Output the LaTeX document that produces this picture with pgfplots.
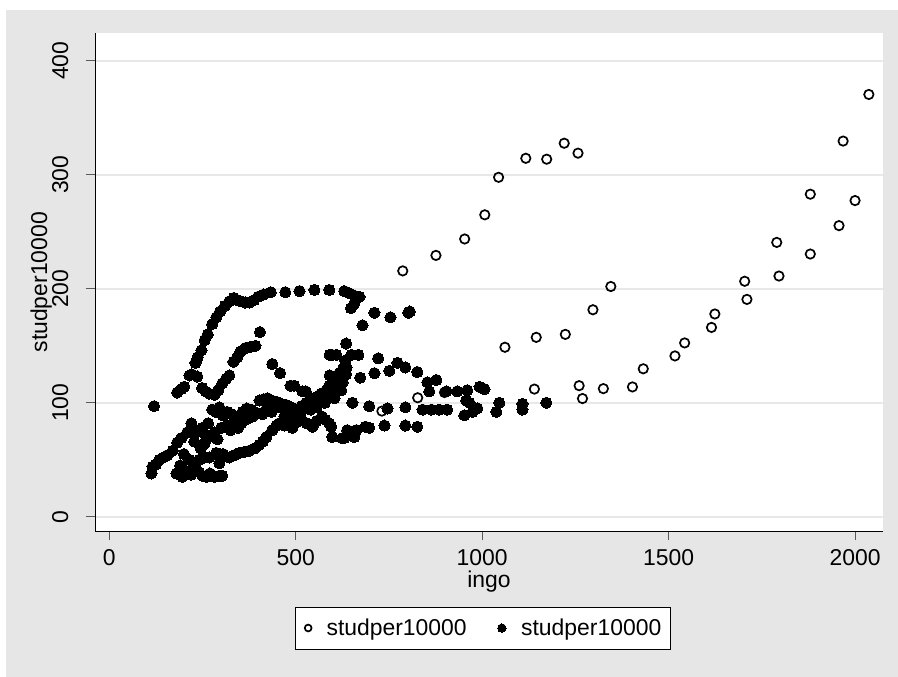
\documentclass[border=0pt]{standalone}
\usepackage{fontspec}
\setmainfont{Liberation Sans}
\usepackage{pgfplots}
\usepackage{pgfplotstable}
\pgfplotsset{compat=1.18}

\definecolor{bggray}{RGB}{230,230,230}
\definecolor{gridgray}{RGB}{232,232,232}
\definecolor{tickgray}{RGB}{90,90,90}

% later years (hollow markers)
\pgfplotstableread{
x y
2037 370.5
1968 329.6
1880 283.0
2000 277.4
1957 255.4
1790 240.7
1880 230.5
1796 211.2
1704 206.6
1710 190.7
1624 177.9
1615 166.1
1543 152.5
1517 141.1
1432 129.8
1403 113.9
1325 112.4
1260 115.0
1269 103.7
1140 112.0
1345 202.0
1297 181.6
1223 160.0
1145 157.4
1061 148.7
1257 319.0
1220 327.7
1173 313.7
1117 314.5
1044 297.8
1007 264.9
953 243.7
876 229.3
787 215.7
827 104.4
998 113.0
731 92.7
899 109.0
}\hollowdata

% earlier years (filled markers)
\pgfplotstableread{
x y
120 97
182 109
193 112
201 114
215 124
221 125
231 135
237 140
247 146
256 155
264 160
276 169
287 175
297 180
310 185
322 189
334 192
344 190
353 189
364 188
376 188
388 190
399 193
414 195
433 197
472 197
510 198
550 199
590 199
630 198
644 196
657 194
671 193
657 187
648 183
679 168
711 179
754 175
802 179
806 180
236 123
249 113
258 110
268 108
282 107
292 111
303 117
313 121
322 124
333 136
343 140
352 145
365 148
378 149
392 150
404 162
437 134
458 126
486 115
496 115
518 110
527 110
113 38
116 44
125 46
134 50
145 52
156 54
170 58
182 65
180 38
190 45
196 35
208 40
220 37
230 44
241 39
250 36
260 35
270 38
282 35
295 36
303 36
295 47
200 55
215 50
241 50
255 52
268 52
287 56
305 55
322 52
335 54
349 56
362 57
376 58
390 60
402 63
412 66
421 70
437 76
448 80
456 82
470 80
480 82
491 78
503 83
515 86
530 82
545 79
556 84
570 88
580 85
590 82
193 69
209 74
220 82
228 66
233 74
249 78
258 72
268 70
282 74
290 68
300 78
316 80
325 76
335 82
345 78
354 82
362 87
370 86
384 88
397 91
410 90
421 94
435 92
450 96
465 95
480 97
245 60
255 64
265 82
276 94
286 92
295 96
305 89
316 92
328 90
341 87
357 92
369 95
381 94
394 91
403 102
413 103
424 104
436 102
448 101
462 99
475 98
488 96
502 94
515 97
528 100
541 103
555 105
568 108
582 111
590 115
598 117
608 122
617 126
627 130
636 131
470 88
485 90
495 93
505 88
512 92
520 95
530 96
540 94
548 98
555 96
562 100
570 103
578 100
585 106
592 110
600 112
605 118
612 115
618 122
626 118
635 125
591 142
598 142
609 142
633 137
635 152
649 142
668 142
721 139
591 124
602 117
604 104
622 111
625 122
673 122
652 100
595 79
598 70
625 69
630 69
638 76
645 72
657 70
663 76
687 79
697 78
738 80
794 80
826 79
697 97
746 95
794 96
840 94
864 94
885 94
906 94
952 89
974 92
957 102
966 100
987 95
1038 92
1046 100
1108 94
1108 99
1172 100
711 126
751 128
773 135
794 131
826 127
853 118
877 120
858 110
904 110
933 110
960 111
993 114
1006 112
}\filleddata

\begin{document}
\begin{tikzpicture}[x=1bp,y=1bp]
% graph region
\fill[white] (0,0) rectangle (898,677);
\fill[bggray] (6,0) rectangle (898,667);
\begin{axis}[
  at={(95bp,146bp)}, anchor=south west,
  scale only axis, width=788bp, height=497.5bp,
  xmin=-38.4, xmax=2075, ymin=-12.5, ymax=424,
  axis background/.style={fill=white},
  axis x line*=bottom, axis y line*=left,
  axis line style={black, line width=0.9bp, -},
  xtick={0,500,1000,1500,2000}, ytick={0,100,200,300,400},
  tick align=outside, major tick length=9.5bp,
  tick style={tickgray, line width=1bp},
  ymajorgrids, major grid style={gridgray, line width=2bp},
  /pgf/number format/assume math mode=true,
  /pgf/number format/1000 sep={},
  ticklabel style={font=\fontsize{23}{27}\selectfont, inner sep=0pt},
  yticklabel style={rotate=90, anchor=south},
  xticklabel style={anchor=north},
  xticklabel shift=9bp, yticklabel shift=17bp,
  xlabel={ingo}, ylabel={studper10000},
  label style={font=\fontsize{23}{27}\selectfont, inner sep=0pt},
  xlabel style={at={(axis description cs:0.5,-0.1126)}, anchor=base},
  ylabel style={at={(axis description cs:-0.0609,0.5)}, anchor=base, rotate=0},
  legend columns=2,
  legend cell align=left,
  legend style={at={(axis description cs:0.4924,-0.195)}, anchor=center,
    draw=black, line width=0.8bp, fill=white,
    font=\fontsize{23}{27}\selectfont,
    inner xsep=9bp, inner ysep=12bp,
    nodes={inner sep=0pt},
    /tikz/every odd column/.append style={column sep=15bp},
    /tikz/every even column/.append style={column sep=31bp}},
]
\addplot[only marks, mark=o, mark size=4.7bp, mark options={black, line width=1.7bp},
  legend image code/.code={\draw[black, line width=1.4bp] plot[mark=o, mark size=3.4bp] coordinates {(0bp,0bp)};}]
  table {\hollowdata};
\addlegendentry{studper10000}
\addplot[only marks, mark=*, mark size=5.6bp, mark options={black, fill=black, line width=0bp},
  legend image code/.code={\fill[black] plot[mark=*, mark size=4.2bp] coordinates {(0bp,0bp)};}]
  table {\filleddata};
\addlegendentry{studper10000}
\end{axis}
\end{tikzpicture}
\end{document}
